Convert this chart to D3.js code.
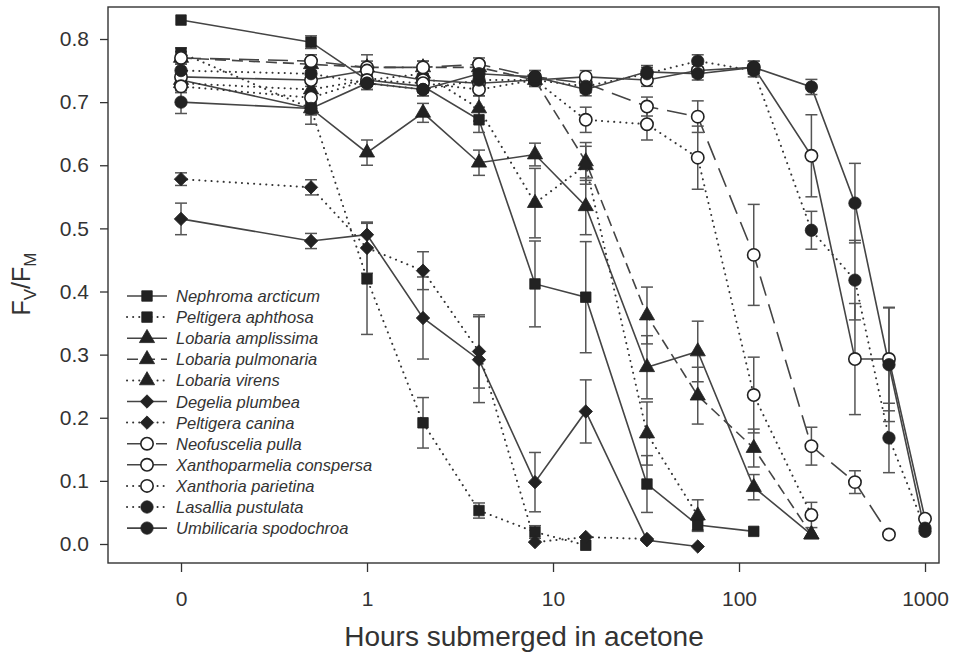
<!DOCTYPE html>
<html>
<head>
<meta charset="utf-8">
<script src="https://cdn.jsdelivr.net/npm/d3@7"></script>
<style>
body { margin: 0; background: #fff; }
svg text { font-family: "Liberation Sans", Arial, Helvetica, sans-serif; fill: #333; }
</style>
</head>
<body>
<div id="chart"></div>
<script>
// hours submerged in acetone ("0" sits at 0.1 on the log axis)
var hours = [0, 0.5, 1, 2, 4, 8, 15, 32, 60, 120, 245, 420, 640, 1000];
var xTickValues = [0.1, 1, 10, 100, 1000];
var xTickLabels = ["0", "1", "10", "100", "1000"];
var yTickValues = [0, 0.1, 0.2, 0.3, 0.4, 0.5, 0.6, 0.7, 0.8];

var speciesNames = ["Nephroma arcticum", "Peltigera aphthosa", "Lobaria amplissima",
  "Lobaria pulmonaria", "Lobaria virens", "Degelia plumbea", "Peltigera canina",
  "Neofuscelia pulla", "Xanthoparmelia conspersa", "Xanthoria parietina",
  "Lasallia pustulata", "Umbilicaria spodochroa"];

// Fv/Fm means and error bars, one slot per entry of hours (null = not measured)
var nephroma     = [0.83, 0.795, 0.735, 0.725, 0.672, 0.412, 0.391, 0.095, 0.03, 0.02, null, null, null, null];
var nephromaErr  = [0.006, 0.01, 0.01, 0.01, 0.02, 0.068, 0.088, 0.045, 0.008, 0.004, null, null, null, null];
var aphthosa     = [0.778, 0.69, 0.42, 0.192, 0.053, 0.019, -0.002, null, null, null, null, null, null, null];
var aphthosaErr  = [0.008, 0.025, 0.088, 0.04, 0.012, 0.01, 0.004, null, null, null, null, null, null, null];
var amplissima   = [0.735, 0.69, 0.62, 0.683, 0.604, 0.617, 0.535, 0.28, 0.305, 0.09, 0.015, null, null, null];
var amplissimaErr= [0.01, 0.01, 0.02, 0.015, 0.02, 0.018, 0.045, 0.05, 0.048, 0.02, 0.004, null, null, null];
var pulmonaria   = [0.77, 0.76, 0.755, 0.755, 0.755, 0.735, 0.606, 0.362, 0.235, 0.152, 0.015, null, null, null];
var pulmonariaErr= [0.01, 0.01, 0.01, 0.01, 0.01, 0.01, 0.03, 0.045, 0.045, 0.03, 0.004, null, null, null];
var virens       = [0.73, 0.72, 0.735, 0.745, 0.69, 0.54, 0.6, 0.175, 0.045, null, null, null, null, null];
var virensErr    = [0.01, 0.01, 0.01, 0.01, 0.02, 0.055, 0.03, 0.05, 0.025, null, null, null, null, null];
var degelia      = [0.515, 0.48, 0.49, 0.358, 0.292, 0.098, 0.21, 0.006, -0.004, null, null, null, null, null];
var degeliaErr   = [0.025, 0.012, 0.02, 0.065, 0.068, 0.047, 0.05, 0.004, 0.003, null, null, null, null, null];
var canina       = [0.578, 0.565, 0.469, 0.433, 0.305, 0.003, 0.011, 0.008, null, null, null, null, null, null];
var caninaErr    = [0.01, 0.012, 0.04, 0.03, 0.058, 0.004, 0.004, 0.003, null, null, null, null, null, null];
var neofuscelia  = [0.77, 0.765, 0.755, 0.755, 0.76, 0.74, 0.73, 0.693, 0.677, 0.458, 0.155, 0.098, 0.015, null];
var neofusceliaErr=[0.01, 0.01, 0.02, 0.01, 0.01, 0.01, 0.01, 0.015, 0.025, 0.08, 0.03, 0.018, 0.004, null];
var xanthoparmelia    = [0.74, 0.735, 0.75, 0.735, 0.73, 0.735, 0.74, 0.735, 0.75, 0.755, 0.615, 0.293, 0.293, 0.04];
var xanthoparmeliaErr = [0.01, 0.01, 0.01, 0.01, 0.01, 0.01, 0.01, 0.01, 0.01, 0.01, 0.065, 0.088, 0.082, 0.005];
var xanthoria    = [0.725, 0.707, 0.735, 0.73, 0.72, 0.735, 0.672, 0.665, 0.612, 0.236, 0.046, null, null, null];
var xanthoriaErr = [0.01, 0.01, 0.01, 0.01, 0.01, 0.01, 0.02, 0.025, 0.05, 0.06, 0.02, null, null, null];
var lasallia     = [0.75, 0.745, 0.73, 0.72, 0.735, 0.735, 0.725, 0.745, 0.765, 0.75, 0.497, 0.418, 0.168, 0.025];
var lasalliaErr  = [0.01, 0.01, 0.01, 0.01, 0.01, 0.01, 0.01, 0.01, 0.01, 0.01, 0.03, 0.063, 0.055, 0.005];
var umbilicaria  = [0.70, 0.69, 0.73, 0.72, 0.745, 0.74, 0.72, 0.748, 0.745, 0.755, 0.724, 0.54, 0.284, 0.02];
var umbilicariaErr=[0.018, 0.01, 0.01, 0.01, 0.01, 0.01, 0.01, 0.01, 0.01, 0.01, 0.012, 0.063, 0.09, 0.005];

var seriesValues = [nephroma, aphthosa, amplissima, pulmonaria, virens, degelia, canina,
  neofuscelia, xanthoparmelia, xanthoria, lasallia, umbilicaria];
var seriesErrors = [nephromaErr, aphthosaErr, amplissimaErr, pulmonariaErr, virensErr, degeliaErr,
  caninaErr, neofusceliaErr, xanthoparmeliaErr, xanthoriaErr, lasalliaErr, umbilicariaErr];

// drawing style per species: marker shape, fill, line pattern
var styles = [
  {shape: "square", fill: true, line: "solid"},
  {shape: "square", fill: true, line: "dot"},
  {shape: "triangle", fill: true, line: "solid"},
  {shape: "triangle", fill: true, line: "dash"},
  {shape: "triangle", fill: true, line: "dot"},
  {shape: "diamond", fill: true, line: "solid"},
  {shape: "diamond", fill: true, line: "dot"},
  {shape: "circle", fill: false, line: "longdash"},
  {shape: "circle", fill: false, line: "solid"},
  {shape: "circle", fill: false, line: "dot"},
  {shape: "circle", fill: true, line: "dot"},
  {shape: "circle", fill: true, line: "solid"}
];
var dashes = {solid: null, dot: "0.1,6", dash: "11,6", longdash: "20,9"};

var W = 953, H = 654;
var plot = {left: 108, top: 7, right: 939, bottom: 563};

var svg = d3.select("#chart").append("svg")
  .attr("width", W).attr("height", H);

// log x: 186 px per decade, 0 h drawn at 0.1
var x = d3.scaleLog().domain([0.0405, 1189]).range([plot.left, plot.right]);
var y = d3.scaleLinear().domain([-0.0301, 0.8507]).range([plot.bottom, plot.top]);
function xh(h) { return x(h === 0 ? 0.1 : h); }

// axes
var xAxis = svg.append("g")
  .attr("transform", "translate(0," + plot.bottom + ")")
  .call(d3.axisBottom(x).tickValues(xTickValues)
    .tickFormat(function(d, i) { return xTickLabels[i]; })
    .tickSize(9).tickPadding(19));
var yAxis = svg.append("g")
  .attr("transform", "translate(" + plot.left + ",0)")
  .call(d3.axisLeft(y).tickValues(yTickValues)
    .tickFormat(d3.format(".1f")).tickSize(8).tickPadding(11));
[xAxis, yAxis].forEach(function(a) {
  a.select(".domain").remove();
  a.selectAll("line").attr("stroke", "#333").attr("stroke-width", 1.3);
  a.selectAll("text").style("font-size", "21px").attr("fill", "#333");
});

svg.append("rect")
  .attr("x", plot.left).attr("y", plot.top)
  .attr("width", plot.right - plot.left).attr("height", plot.bottom - plot.top)
  .attr("fill", "none").attr("stroke", "#333").attr("stroke-width", 1.4);

// axis titles
svg.append("text")
  .attr("x", 524).attr("y", 646)
  .attr("text-anchor", "middle")
  .style("font-size", "28px")
  .text("Hours submerged in acetone");

var yt = svg.append("text")
  .attr("transform", "translate(30,284) rotate(-90)")
  .attr("text-anchor", "middle")
  .style("font-size", "25px");
yt.append("tspan").text("F");
yt.append("tspan").attr("dy", 6).style("font-size", "17px").text("V");
yt.append("tspan").attr("dy", -6).text("/F");
yt.append("tspan").attr("dy", 6).style("font-size", "17px").text("M");

function symbolPath(shape) {
  if (shape === "square") return d3.symbol().type(d3.symbolSquare).size(110)();
  if (shape === "triangle") return d3.symbol().type(d3.symbolTriangle).size(100)();
  if (shape === "diamond") return d3.symbol().type(d3.symbolSquare).size(90)();
  return d3.symbol().type(d3.symbolCircle).size(120)();
}
function drawMarker(g, st, cx, cy) {
  return g.append("path")
    .attr("d", symbolPath(st.shape))
    .attr("transform", "translate(" + cx + "," + cy + ")" + (st.shape === "diamond" ? " rotate(45)" : ""))
    .attr("fill", st.fill ? "#222" : "#fff")
    .attr("stroke", "#222")
    .attr("stroke-width", st.fill ? 0.8 : 1.6);
}
function styleLine(sel, st) {
  sel.attr("fill", "none")
    .attr("stroke", st.line === "dot" ? "#333" : "#444")
    .attr("stroke-width", st.line === "dot" ? 2 : 1.6)
    .attr("stroke-linecap", st.line === "dot" ? "round" : "butt")
    .attr("stroke-dasharray", dashes[st.line]);
}

var line = d3.line()
  .defined(function(d) { return d.v != null; })
  .x(function(d) { return xh(d.h); })
  .y(function(d) { return y(d.v); });

var data = seriesValues.map(function(vals, i) {
  return hours.map(function(h, j) { return {h: h, v: vals[j], e: seriesErrors[i][j]}; });
});

// lines first, then error bars, then markers
var gLines = svg.append("g"), gErr = svg.append("g"), gMark = svg.append("g");
data.forEach(function(pts, i) {
  styleLine(gLines.append("path").datum(pts).attr("d", line), styles[i]);
});
data.forEach(function(pts) {
  pts.filter(function(d) { return d.v != null && d.e > 0.006; }).forEach(function(d) {
    var cx = xh(d.h);
    var g = gErr.append("g").attr("stroke", "#555").attr("stroke-width", 1.5);
    g.append("line").attr("x1", cx).attr("x2", cx).attr("y1", y(d.v + d.e)).attr("y2", y(d.v - d.e));
    g.append("line").attr("x1", cx - 6).attr("x2", cx + 6).attr("y1", y(d.v + d.e)).attr("y2", y(d.v + d.e));
    g.append("line").attr("x1", cx - 6).attr("x2", cx + 6).attr("y1", y(d.v - d.e)).attr("y2", y(d.v - d.e));
  });
});
data.forEach(function(pts, i) {
  pts.filter(function(d) { return d.v != null; }).forEach(function(d) {
    drawMarker(gMark, styles[i], xh(d.h), y(d.v));
  });
});

// legend
var legend = svg.append("g");
speciesNames.forEach(function(name, i) {
  var ly = 296 + i * 21.1;
  styleLine(legend.append("line").attr("x1", 127).attr("x2", 167).attr("y1", ly).attr("y2", ly), styles[i]);
  drawMarker(legend, styles[i], 147, ly);
  legend.append("text")
    .attr("x", 176).attr("y", ly + 6)
    .style("font-size", "16.5px").style("font-style", "italic")
    .text(name);
});
</script>
</body>
</html>
